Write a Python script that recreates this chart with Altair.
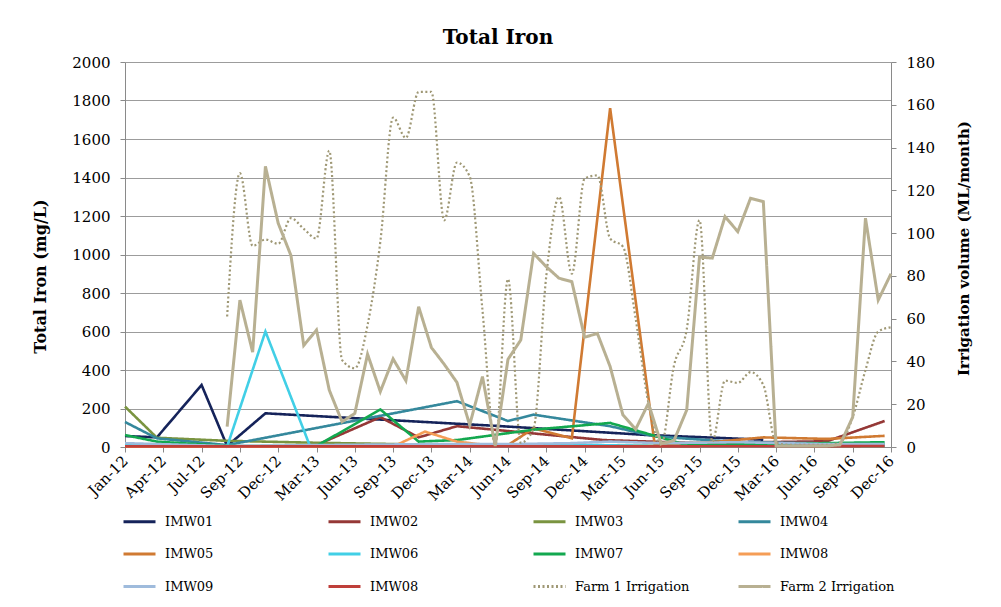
import altair as alt
import pandas as pd

# ---------------- data ----------------
X_LABELS = ["Jan-12", "Apr-12", "Jul-12", "Sep-12", "Dec-12", "Mar-13", "Jun-13",
            "Sep-13", "Dec-13", "Mar-14", "Jun-14", "Sep-14", "Dec-14", "Mar-15",
            "Jun-15", "Sep-15", "Dec-15", "Mar-16", "Jun-16", "Sep-16", "Dec-16"]
TICK_STEP = 3           # one labelled tick every 3 categories
N_LAST = 60             # last category position

# monitoring wells: category position + total iron (mg/L)
IMW01_X = [0, 2.5, 6, 8, 11, 29, 41, 50]
IMW01_Y = [57, 50, 322, 5, 175, 110, 62, 38]
IMW02_X = [15, 20, 23, 26, 37.5, 45, 55, 59.5]
IMW02_Y = [10, 155, 50, 108, 36, 20, 30, 135]
IMW03_X = [0, 2.5, 8, 15, 24, 35, 45, 59.5]
IMW03_Y = [210, 48, 32, 22, 12, 8, 5, 5]
IMW04_X = [0, 2.5, 8, 26, 30, 32, 38, 41.5, 48, 59.5]
IMW04_Y = [130, 45, 10, 238, 135, 168, 108, 55, 25, 15]
IMW05_X = [0, 21, 30, 32, 35, 38, 41.5, 46.5, 50, 55, 59.5]
IMW05_Y = [2, 2, 10, 97, 45, 1760, 8, 28, 50, 42, 58]
IMW06_X = [0, 8, 11, 14.5, 24, 30, 35, 41.5, 50, 59.5]
IMW06_Y = [15, 2, 600, 3, 5, 3, 12, 5, 5, 8]
IMW07_X = [0, 2.5, 8, 15, 20, 23, 26, 32, 38, 41.5, 44, 50, 59.5]
IMW07_Y = [62, 28, 5, 5, 195, 28, 36, 90, 125, 58, 10, 15, 25]
IMW08_X = [0, 21, 23.5, 26, 29]
IMW08_Y = [2, 2, 80, 28, 5]
IMW09_X = [0, 8, 15, 24, 30, 35, 38, 42, 48, 55, 59.5]
IMW09_Y = [20, 5, 10, 15, 15, 20, 28, 20, 25, 15, 15]
IMW08B_X = [0, 20, 29, 40, 59.5]
IMW08B_Y = [3, 3, 3, 3, 5]

# irrigation (ML/month), categories 8 .. 60
FARM_START = 8
FARM1 = [61, 128, 94, 97, 95, 107, 102, 97.5, 138.5, 40.7, 36.8, 57, 96, 154, 144.5,
         166, 166, 106, 133, 126.5, 64, 1, 78.5, 2, 8.5, 80, 117, 81, 125.5, 127, 97.5,
         93.7, 60, 20.5, 1, 38, 55, 106, 2.5, 31, 30, 35, 29, 2, 1, 1, 1, 1, 2, 14, 36,
         54, 56]
FARM2 = [9.5, 68.7, 44.3, 131.2, 104.6, 89.5, 47.5, 54.7, 26.6, 11.8, 15.7, 43.4, 25.9,
         41.2, 31, 65.6, 46.5, 38.7, 30.2, 10.3, 32.9, 0.5, 41, 50, 90.5, 84.3, 78.9,
         77.3, 51.3, 53.1, 37.6, 15, 8.3, 20.4, 1.5, 3, 17.3, 88.8, 88.3, 107.7, 100.7,
         116.3, 114.7, 0.5, 0.5, 0.5, 0.5, 0.5, 1, 14, 107, 68.7, 81]

NAMES = ["IMW01", "IMW02", "IMW03", "IMW04", "IMW05", "IMW06", "IMW07", "IMW08",
         "IMW09", "IMW08b", "Farm 1 Irrigation", "Farm 2 Irrigation"]
COLORS = ["#15235a", "#953836", "#7a9440", "#34889c", "#d07a32", "#41cfe6", "#13a84f",
          "#f59d56", "#9fbbdc", "#bf3f3a", "#9f9875", "#b8b092"]
DASHES = [[1, 0]] * 10 + [[2, 2.5], [1, 0]]

# ---------------- tables ----------------
imw_sets = [("IMW01", IMW01_X, IMW01_Y), ("IMW02", IMW02_X, IMW02_Y),
            ("IMW03", IMW03_X, IMW03_Y), ("IMW04", IMW04_X, IMW04_Y),
            ("IMW05", IMW05_X, IMW05_Y), ("IMW06", IMW06_X, IMW06_Y),
            ("IMW07", IMW07_X, IMW07_Y), ("IMW08", IMW08_X, IMW08_Y),
            ("IMW09", IMW09_X, IMW09_Y), ("IMW08b", IMW08B_X, IMW08B_Y)]
rows = []
for name, xs, ys in imw_sets:
    for x, y in zip(xs, ys):
        rows.append({"series": name, "idx": x, "iron": y})
imw_df = pd.DataFrame(rows)

farm1_df = pd.DataFrame({"series": "Farm 1 Irrigation",
                         "idx": list(range(FARM_START, FARM_START + len(FARM1))),
                         "irr": FARM1})
farm2_df = pd.DataFrame({"series": "Farm 2 Irrigation",
                         "idx": list(range(FARM_START, FARM_START + len(FARM2))),
                         "irr": FARM2})

# ---------------- encodings ----------------
FONT = "DejaVu Serif"
label_arr = "[" + ",".join("'%s'" % s for s in X_LABELS) + "]"

legend = alt.Legend(
    title=None, orient="none", legendX=-3, legendY=442, columns=4, direction="horizontal",
    gridAlign="all", columnPadding=42, rowPadding=7.5,
    symbolType="stroke", symbolSize=1024, symbolStrokeWidth=3,
    labelFont=FONT, labelFontSize=13, labelColor="#000000", labelOffset=8,
    labelExpr="datum.label == 'IMW08b' ? 'IMW08' : datum.label", padding=0,
)
color = alt.Color("series:N", scale=alt.Scale(domain=NAMES, range=COLORS), legend=legend)
dash = alt.StrokeDash("series:N", scale=alt.Scale(domain=NAMES, range=DASHES), legend=legend)

x_enc = alt.X(
    "idx:Q", scale=alt.Scale(domain=[0, N_LAST], nice=False, zero=False),
    axis=alt.Axis(values=list(range(0, N_LAST + 1, TICK_STEP)),
                  labelExpr=label_arr + "[round(datum.value/%d)]" % TICK_STEP,
                  labelAngle=315, labelAlign="right", labelBaseline="middle",
                  labelPadding=6, labelFontSize=15, tickSize=5, grid=False, title=None,
                  labelOverlap=False, labelFlush=False),
)

imw = alt.Chart(imw_df).mark_line(strokeWidth=2.6).encode(
    x=x_enc,
    y=alt.Y("iron:Q", scale=alt.Scale(domain=[0, 2000], nice=False),
            axis=alt.Axis(values=list(range(0, 2001, 200)), format="d", orient="left",
                          grid=True, title="Total Iron (mg/L)", titleFontSize=16,
                          titleFontWeight="bold", titleAngle=270, titleX=-85, titleY=214,
                          titleAlign="center", titleBaseline="middle", labelFontSize=15,
                          labelPadding=10, tickSize=5)),
    color=color, strokeDash=dash, order="idx:Q",
)

farm_y = alt.Y("irr:Q", scale=alt.Scale(domain=[0, 180], nice=False),
               axis=alt.Axis(values=list(range(0, 181, 20)), format="d", orient="right",
                             grid=False, title="Irrigation volume (ML/month)",
                             titleFontSize=15, titleFontWeight="bold", titleAngle=270,
                             titleX=72, titleY=186, titleAlign="center",
                             titleBaseline="middle", labelFontSize=15, labelPadding=10,
                             tickSize=5))

farm1 = alt.Chart(farm1_df).mark_line(strokeWidth=2.2, interpolate="monotone").encode(
    x=x_enc, y=farm_y, color=color, strokeDash=dash, order="idx:Q")
farm2 = alt.Chart(farm2_df).mark_line(strokeWidth=3).encode(
    x=x_enc, y=farm_y, color=color, strokeDash=dash, order="idx:Q")

farm = alt.layer(farm1, farm2)

chart = alt.layer(imw, farm).resolve_scale(y="independent").properties(
    width=766, height=385,
    padding={"left": 117, "top": 54, "right": 94, "bottom": 150},
    autosize=alt.AutoSizeParams(type="none"),
    background="white",
    title=alt.TitleParams("Total Iron", font=FONT, fontSize=20, fontWeight="bold",
                          color="#000000", dx=-10, offset=7),
).configure_axis(
    labelFont=FONT, titleFont=FONT, labelColor="#000000", titleColor="#000000",
    domainColor="#8a8a8a", tickColor="#8a8a8a", gridColor="#9c9c9c", gridWidth=1,
).configure_view(stroke="transparent")

chart.save("out.html", embed_options={"renderer": "svg", "actions": False})
